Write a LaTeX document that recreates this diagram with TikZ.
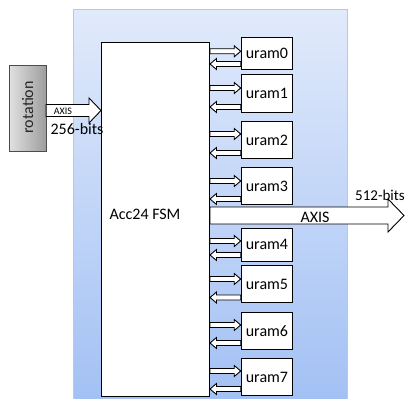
\documentclass[tikz,border=0pt]{standalone}
\usepackage{fontspec}
\setmainfont{Carlito}
\usetikzlibrary{calc}
\definecolor{bgtop}{HTML}{E1EAFB}
\definecolor{bgbot}{HTML}{A3C1F4}
\definecolor{bgline}{HTML}{B7C8E6}
\tikzset{
  box/.style={draw=black, line width=1pt, fill=white, inner sep=0pt},
  ram/.style={box, minimum width=51.5pt, font=\fontsize{16}{18}\selectfont},
  arr/.style={draw=black, line width=0.9pt, fill=white, line join=miter},
  lbl/.style={inner sep=0pt, font=\fontsize{16}{18}\selectfont},
}
\newcommand\hollowarrow[5]{%
  \coordinate (ha-s) at (#1); \coordinate (ha-t) at (#2);
  \coordinate (ha-h) at ($(ha-t)!#5!(ha-s)$);
  \draw[arr] ($(ha-s)!#3!90:(ha-t)$) -- ($(ha-h)!#3!-90:(ha-s)$) -- ($(ha-h)!#4!-90:(ha-s)$) -- (ha-t) -- ($(ha-h)!#4!90:(ha-s)$) -- ($(ha-h)!#3!90:(ha-s)$) -- ($(ha-s)!#3!-90:(ha-t)$) -- cycle;}
\begin{document}
\begin{tikzpicture}[x=1pt,y=-1pt]
\useasboundingbox (0,0) rectangle (406,398);
% background region
\shade[top color=bgtop, bottom color=bgbot] (73.3,9.3) rectangle (347.5,398);
\draw[bgline, line width=0.7pt] (73.3,398) -- (73.3,9.3) -- (347.5,9.3) -- (347.5,398);
% rotation box
\node[draw=black!70, line width=0.6pt, left color=black!12, right color=black!38, minimum width=36.5pt, minimum height=86pt, inner sep=0pt, anchor=north west] (rot) at (9,65) {};
\node[lbl, rotate=90, text=black!85] (rottxt) at ($(rot.center)+(0,-1)$) {rotation};
% FSM
\node[box, minimum width=108pt, minimum height=354pt, anchor=north west] (fsm) at (101,42.3) {};
\node[lbl] (fsmtxt) at (145,214) {Acc24 FSM};
% urams
\node[ram, minimum height=32.6pt, anchor=north west] (u0) at (240.7,36.7) {uram0};
\node[ram, minimum height=37.5pt, anchor=north west] (u1) at (240.7,74.3) {uram1};
\node[ram, minimum height=37pt, anchor=north west] (u2) at (240.7,121) {uram2};
\node[ram, minimum height=37pt, anchor=north west] (u3) at (240.7,167) {uram3};
\node[ram, minimum height=32.5pt, anchor=north west] (u4) at (240.7,228) {uram4};
\node[ram, minimum height=37pt, anchor=north west] (u5) at (240.7,265) {uram5};
\node[ram, minimum height=37pt, anchor=north west] (u6) at (240.7,312) {uram6};
\node[ram, minimum height=37pt, anchor=north west] (u7) at (240.7,358) {uram7};
% uram arrows
\foreach \u/\a/\b in {u0/51.3/64, u1/88/107, u2/134/153, u3/181/199, u4/241/255, u5/279/297.5, u6/325/343, u7/371/389}{
  \hollowarrow{fsm.east |- 0,\a}{\u.west |- 0,\a}{2.5pt}{5.5pt}{6.5pt}
  \hollowarrow{\u.west |- 0,\b}{fsm.east |- 0,\b}{2.5pt}{5.5pt}{6.5pt}
}
% input arrow
\hollowarrow{rot.east |- 0,110.5}{fsm.west |- 0,110.5}{6pt}{12.5pt}{12pt}
\node[inner sep=0pt, font=\fontsize{10}{11}\selectfont] (inaxis) at (63,111) {AXIS};
\node[lbl] (inbits) at (77,129) {256-bits};
% output arrow
\coordinate (outtip) at (404,215.5);
\hollowarrow{fsm.east |- outtip}{outtip}{8.5pt}{16.5pt}{16pt}
\node[lbl] (outaxis) at (315,217) {AXIS};
\node[lbl, anchor=east, font=\fontsize{15}{17}\selectfont] (outbits) at (405,195) {512-bits};
\end{tikzpicture}
\end{document}
